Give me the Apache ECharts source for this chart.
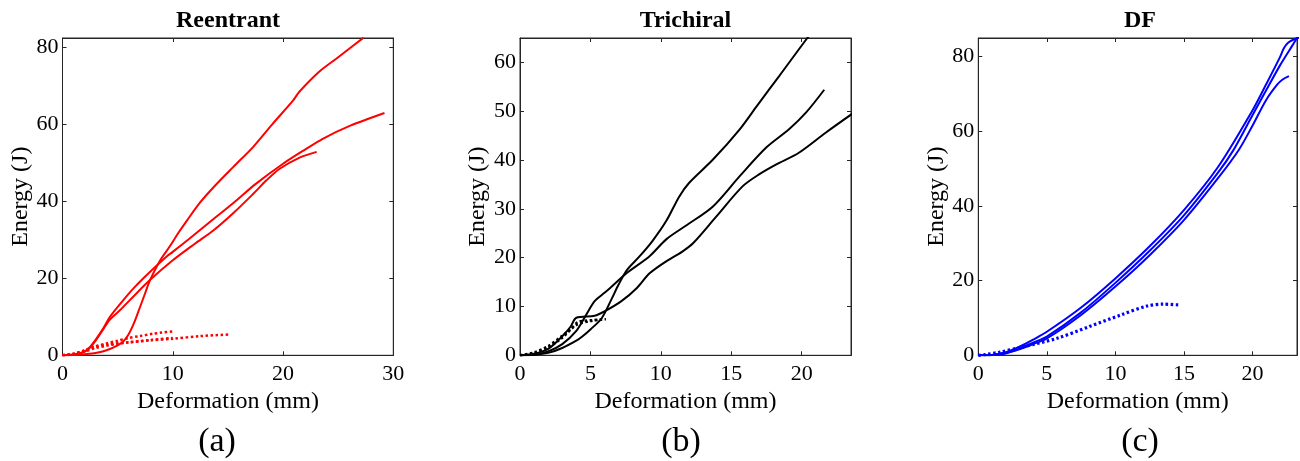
<!DOCTYPE html>
<html>
<head>
<meta charset="utf-8">
<script src="https://cdn.jsdelivr.net/npm/echarts@6/dist/echarts.min.js"></script>
<style>
html,body{margin:0;padding:0;background:#fff;}
#chart{width:1300px;height:461px;}
</style>
</head>
<body>
<div id="chart"></div>
<script>
// ---------- data ----------
const panelTitles = ['Reentrant', 'Trichiral', 'DF'];
const panelLabels = ['(a)', '(b)', '(c)'];
const xAxisName = 'Deformation (mm)';
const yAxisName = 'Energy (J)';

// Panel (a) Reentrant — solid
const reSolid1 = [[0,0],[1,0.1],[2,0.3],[3,0.6],[4,1.3],[5,2.6],[5.5,3.6],[6,5.5],[6.5,8.5],[7,12.3],[7.5,16.2],[7.9,19.3],[8.8,24.4],[9.75,28.4],[10.5,31.8],[11.3,35.1],[12.5,39.8],[13.7,43.7],[15.5,49],[17.3,54.2],[19,60],[20.9,66.2],[21.5,68.6],[23.3,73.8],[25,77.5],[27.3,82.6]];
const reSolid2 = [[0,0],[1,0.2],[2,1.0],[2.5,2.2],[3,4],[3.7,7],[4.3,10],[5.5,14.3],[6.5,17.6],[7.9,21.6],[9.5,25.8],[10,26.9],[11.5,30.3],[13.5,35],[15.5,39.6],[17.5,44.5],[20,49.8],[22,53.5],[23.6,56.3],[26.1,59.7],[29.2,63]];
const reSolid3 = [[0,0],[1,0.2],[2,0.9],[2.5,2.0],[3,3.8],[3.7,6.8],[4.3,9.3],[5.2,11.7],[6.5,15.5],[7.9,19.5],[10,24.7],[12,29],[13.7,32.5],[15.5,37],[17.3,42],[18.5,45.5],[19.7,48.5],[21.5,51.4],[23.05,52.9]];
// Panel (a) — dotted
const reDot1 = [[0,0],[1,0.4],[2,1.3],[3,2.3],[4,3.1],[5,3.8],[6,4.5],[7,5],[8.2,5.6],[9,5.9],[10.05,6.2]];
const reDot2 = [[0,0],[1,0.3],[2,1.0],[3,1.9],[4,2.5],[5,3],[6,3.4],[7,3.7],[8,4.0],[10,4.5]];
const reDot3 = [[0,0],[1,0.4],[2,1.2],[2.8,2.2],[4,2.8],[5.8,3.3],[8,3.9],[10,4.3],[12.5,5.0],[15.2,5.4]];

// Panel (b) Trichiral — solid
const trSolid1 = [[0,0],[1,0.1],[2,0.5],[3,1.5],[4,3],[4.4,3.8],[5,5.3],[5.8,7.6],[6.5,11.5],[7,14.5],[7.6,17.5],[8.5,20.3],[9.4,23.4],[10.4,27.6],[11.3,32.5],[12,35.3],[13.7,40.1],[15.6,46.3],[16.8,51],[18.4,57.2],[20.4,65],[20.7,66]];
const trSolid2 = [[0,0],[1,0.1],[2,0.8],[3,2.3],[4,5],[4.7,8.3],[5.3,11.1],[6,12.8],[6.4,13.8],[7.6,16.9],[9.2,20.3],[10.4,23.8],[11.8,26.6],[13.7,30.5],[15.6,36.7],[17.5,42.6],[19.1,46.3],[20.3,49.7],[21.6,54.4]];
const trSolid3 = [[0,0],[1,0.3],[2,1.3],[3,3.9],[3.6,5.9],[4,7.7],[5.3,8.1],[6,9.0],[7.2,11.1],[8.3,13.8],[9.2,16.8],[10.4,19.3],[11.5,21.2],[12.3,23.0],[13.9,28.3],[15.8,34.6],[17,37.1],[18.2,39.1],[19.8,41.5],[21.7,45.6],[23.6,49.5]];
// Panel (b) — dotted
const trDot1 = [[0,0],[1,0.6],[2,1.9],[3,4.0],[3.6,5.4],[4.1,6.8],[4.6,7.1],[5.1,7.2],[6.1,7.4]];
const trDot2 = [[0,0],[1,0.4],[2,1.6],[3,3.6],[4,6.2],[5,7.0],[5.8,7.3]];

// Panel (c) DF — solid
const dfSolid1 = [[0,0],[1,0.1],[2,0.8],[3,2.3],[4,4.2],[5,6.3],[7.5,12.8],[10,20.6],[12.5,29.2],[15,38.9],[17.5,50.5],[20,65.6],[21,72.6],[22,79.8],[22.3,82.3],[22.6,83.7],[23,84.6],[23.5,85.2]];
const dfSolid2 = [[0,0],[1,0.1],[2,0.6],[3,1.8],[4,3.4],[5,5.0],[7.5,11.5],[10,19.4],[12.5,28],[15,37.5],[17.5,49],[18.6,54.9],[20,64.3],[21,71],[22,77.6],[23,83.5],[23.5,86.5]];
const dfSolid3 = [[0,0],[1,0.1],[2,0.5],[3,1.6],[4,3.0],[5,4.5],[7.5,10.8],[10,18.4],[12.5,26.8],[15,36.2],[17.5,47.5],[19,55],[20,61.5],[21,68.4],[21.8,72.5],[22.2,73.9],[22.66,74.8]];
// Panel (c) — dotted
const dfDot1 = [[0,0],[0.5,0.2],[1.5,0.8],[3.3,2.3],[5.7,4.5],[8.1,7.7],[10.4,10.8],[12.3,13.2],[13.5,13.7],[14.6,13.5]];

// axis ranges / ticks
const xMax = [30, 23.5, 23.25];
const yMax = [82.5, 65, 85];
const xInterval = [10, 5, 5];
const yInterval = [20, 10, 20];

// ---------- layout ----------
const gridLeft = [62.5, 520, 978.3];
const gridWidth = [330.8, 331, 326.7];
const gridTop = 38;
const gridHeight = 317.3;
const FONT = 'Liberation Serif';
const AXC = '#262626';

const solidColor = ['#ff0000', '#000000', '#0000ff'];
const dotWidth = [2.5, 2.5, 3.2];
const solidSets = [[reSolid1, reSolid2, reSolid3], [trSolid1, trSolid2, trSolid3], [dfSolid1, dfSolid2, dfSolid3]];
const dotSets = [[reDot1, reDot2, reDot3], [trDot1, trDot2], [dfDot1]];

function fmt(intv) {
  return function (v) {
    const r = v / intv;
    return Math.abs(r - Math.round(r)) < 1e-6 ? String(Math.round(v)) : '';
  };
}

const grids = [], xAxes = [], yAxes = [], series = [], graphics = [];
for (let p = 0; p < 3; p++) {
  grids.push({
    left: gridLeft[p], top: gridTop, width: gridWidth[p], height: gridHeight,
    show: true, borderColor: AXC, borderWidth: 1, backgroundColor: 'transparent'
  });
  const xBase = {
    type: 'value', gridIndex: p, min: 0, max: xMax[p], interval: xInterval[p],
    splitLine: { show: false },
    axisLine: { show: true, onZero: false, lineStyle: { color: AXC, width: 1 } },
    axisTick: { show: true, inside: true, length: 4, lineStyle: { color: AXC } }
  };
  xAxes.push(Object.assign({}, xBase, {
    position: 'bottom',
    name: xAxisName, nameLocation: 'middle', nameGap: 34,
    nameTextStyle: { fontFamily: FONT, fontSize: 24, color: '#000' },
    axisLabel: { fontFamily: FONT, fontSize: 22, color: '#000', margin: 8, formatter: fmt(xInterval[p]) }
  }));
  xAxes.push(Object.assign({}, xBase, { position: 'top', axisLabel: { show: false } }));
  const yBase = {
    type: 'value', gridIndex: p, min: 0, max: yMax[p], interval: yInterval[p],
    splitLine: { show: false },
    axisLine: { show: true, onZero: false, lineStyle: { color: AXC, width: 1 } },
    axisTick: { show: true, inside: true, length: 4, lineStyle: { color: AXC } }
  };
  yAxes.push(Object.assign({}, yBase, {
    position: 'left',
    name: yAxisName, nameLocation: 'middle', nameGap: 30, nameRotate: 90,
    nameTextStyle: { fontFamily: FONT, fontSize: 24, color: '#000' },
    axisLabel: { fontFamily: FONT, fontSize: 22, color: '#000', margin: 4, formatter: fmt(yInterval[p]) }
  }));
  yAxes.push(Object.assign({}, yBase, { position: 'right', axisLabel: { show: false } }));

  solidSets[p].forEach(function (d) {
    series.push({
      type: 'line', xAxisIndex: 2 * p, yAxisIndex: 2 * p, data: d,
      showSymbol: false, smooth: 0.3, silent: true,
      lineStyle: { color: solidColor[p], width: 2 }
    });
  });
  dotSets[p].forEach(function (d) {
    series.push({
      type: 'line', xAxisIndex: 2 * p, yAxisIndex: 2 * p, data: d,
      showSymbol: false, smooth: 0.3, silent: true,
      lineStyle: { color: solidColor[p], width: dotWidth[p], type: [2.5, 2.5] }
    });
  });

  graphics.push({
    type: 'text', x: [228, 685.5, 1140][p], y: 21,
    style: { text: panelTitles[p], fontFamily: FONT, fontSize: 24, fontWeight: 'bold', fill: '#000', align: 'center', verticalAlign: 'middle' }
  });
  graphics.push({
    type: 'text', x: [217, 681, 1140][p], y: 442,
    style: { text: panelLabels[p], fontFamily: FONT, fontSize: 34, fill: '#000', align: 'center', verticalAlign: 'middle' }
  });
}

const chart = echarts.init(document.getElementById('chart'), null, { renderer: 'canvas' });
chart.setOption({
  animation: false,
  backgroundColor: '#ffffff',
  grid: grids,
  xAxis: xAxes,
  yAxis: yAxes,
  series: series,
  graphic: graphics
});
</script>
</body>
</html>
